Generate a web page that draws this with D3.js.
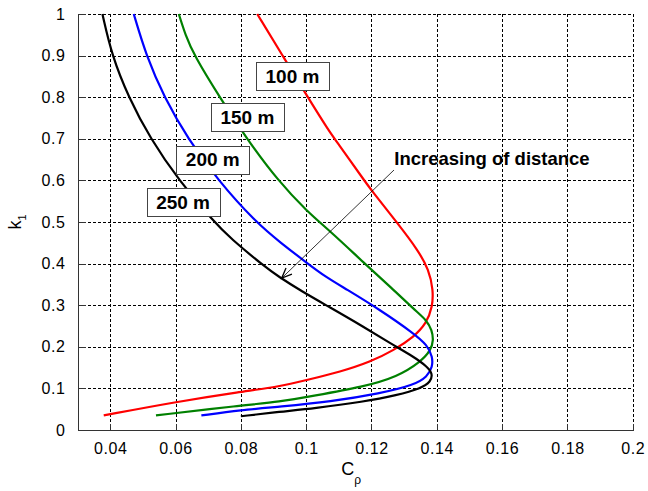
<!DOCTYPE html>
<html><head><meta charset="utf-8">
<script src="https://cdn.jsdelivr.net/npm/d3@7"></script>
<style>
html,body{margin:0;padding:0;background:#fff;}
svg{display:block;font-family:Arial,"Liberation Sans",Helvetica,sans-serif;}
</style></head>
<body>
<div id="chart"></div>
<script>
// ---------- data ----------
const xTicks = [0.04, 0.06, 0.08, 0.1, 0.12, 0.14, 0.16, 0.18, 0.2];
const xTickLabels = ["0.04","0.06","0.08","0.1","0.12","0.14","0.16","0.18","0.2"];
const yTicks = [0, 0.1, 0.2, 0.3, 0.4, 0.5, 0.6, 0.7, 0.8, 0.9, 1];
const yTickLabels = ["0","0.1","0.2","0.3","0.4","0.5","0.6","0.7","0.8","0.9","1"];

const seriesNames = ["100 m", "150 m", "200 m", "250 m"];
const seriesColors = ["#ff0000", "#008000", "#0000ff", "#000000"];

// k1 values and Cp values for each distance
const k100 = [0.035,0.0675,0.092,0.104,0.12,0.14,0.164,0.192,0.224,0.256,0.296,0.337,0.385,0.433,0.497,0.577,0.601,0.697,0.72,0.8,0.9,1.0];
const cp100 = [0.038,0.060,0.080,0.0915,0.1002,0.1105,0.1197,0.1269,0.133,0.1368,0.1387,0.1389,0.1376,0.1342,0.128,0.1199,0.1177,0.109,0.1069,0.1005,0.0928,0.085];

const k150 = [0.035,0.059,0.068,0.082,0.104,0.128,0.164,0.192,0.216,0.240,0.264,0.288,0.341,0.401,0.477,0.525,0.6,0.7,0.8,0.9,0.95,1.0];
const cp150 = [0.054,0.080,0.092,0.102,0.1176,0.1279,0.1351,0.1382,0.139,0.1385,0.1369,0.1333,0.1262,0.1178,0.1075,0.1003,0.0913,0.0818,0.0735,0.0657,0.063,0.061];

const k200 = [0.035,0.048,0.056,0.068,0.088,0.108,0.128,0.152,0.176,0.204,0.232,0.288,0.34,0.369,0.40,0.45,0.5,0.6,0.7,0.8,0.9,1.0];
const cp200 = [0.0679,0.080,0.092,0.1074,0.1228,0.133,0.1371,0.1387,0.1387,0.1371,0.133,0.1228,0.112,0.1058,0.1005,0.0922,0.0845,0.073,0.0638,0.0565,0.051,0.0472];

const k250 = [0.033,0.044,0.052,0.068,0.084,0.1,0.116,0.136,0.152,0.176,0.208,0.248,0.296,0.334,0.369,0.393,0.461,0.5,0.6,0.7,0.8,0.9,1.0];
const cp250 = [0.080,0.092,0.1023,0.1176,0.1279,0.1351,0.1382,0.1387,0.1371,0.133,0.1258,0.1176,0.107,0.0985,0.0915,0.0872,0.0768,0.0718,0.061,0.0523,0.0456,0.0405,0.0376];

const kSeries = [k100, k150, k200, k250];
const cpSeries = [cp100, cp150, cp200, cp250];

// label anchor points (data units)
const labelCp = [0.0958, 0.0820, 0.0714, 0.0623];
const labelK  = [0.851, 0.753, 0.650, 0.547];

// ---------- layout ----------
const W = 648, H = 491;
const L = 77.6, R = 632.7, T = 14, B = 430;

const x = d3.scaleLinear().domain([0.03, 0.2]).range([L, R]);
const y = d3.scaleLinear().domain([0, 1]).range([B, T]);

const svg = d3.select("#chart").append("svg").attr("width", W).attr("height", H);
svg.append("rect").attr("width", W).attr("height", H).attr("fill", "#fff");

// grid
const grid = svg.append("g").attr("stroke", "#000").attr("stroke-width", 1)
  .attr("stroke-dasharray", "3,2").attr("fill", "none").attr("shape-rendering", "crispEdges");
grid.selectAll(".gx").data(xTicks).join("line")
  .attr("x1", d => Math.round(x(d)) + 0.5).attr("x2", d => Math.round(x(d)) + 0.5)
  .attr("y1", T).attr("y2", B);
grid.selectAll(".gy").data(yTicks.filter(d => d > 0)).join("line")
  .attr("x1", L).attr("x2", R)
  .attr("y1", d => Math.round(y(d)) + 0.5).attr("y2", d => Math.round(y(d)) + 0.5);

// axes (MATLAB style, ticks inward)
const xAxis = d3.axisBottom(x).tickValues(xTicks).tickSize(-7).tickSizeOuter(0)
  .tickPadding(12).tickFormat((d, i) => xTickLabels[i]);
const yAxis = d3.axisLeft(y).tickValues(yTicks).tickSize(-7).tickSizeOuter(0)
  .tickPadding(13).tickFormat((d, i) => yTickLabels[i]);

const gx = svg.append("g").attr("transform", `translate(0,${Math.round(B)+0.5})`).call(xAxis);
const gy = svg.append("g").attr("transform", `translate(${Math.round(L)+0.5},0)`).call(yAxis);
[gx, gy].forEach(g => {
  g.select(".domain").attr("stroke", "#333").attr("stroke-width", 1).attr("shape-rendering", "crispEdges");
  g.selectAll(".tick line").attr("stroke", "#333").attr("shape-rendering", "crispEdges");
  g.selectAll(".tick text").attr("fill", "#000").attr("font-size", 16)
    .attr("font-family", 'Arial,"Liberation Sans",sans-serif').attr("letter-spacing", "0.6px");
});
gx.selectAll(".tick text").attr("dy", "0.71em");
gx.select(".domain").attr("d", `M${L},0H${R}`);
gy.select(".domain").attr("d", `M0,${B}V${T}`);

// curves
const line = d3.line().x(d => x(d[0])).y(d => y(d[1])).curve(d3.curveBasis);
const curves = svg.append("g").attr("fill", "none").attr("stroke-width", 2.2).attr("stroke-linejoin", "round");
seriesNames.forEach((name, i) => {
  const pts = kSeries[i].map((k, j) => [cpSeries[i][j], k]);
  curves.append("path").datum(pts).attr("d", line).attr("stroke", seriesColors[i]);
});

// labels
const lab = svg.append("g");
seriesNames.forEach((name, i) => {
  const cx = x(labelCp[i]), cy = y(labelK[i]);
  const bw = 73, bh = 28;
  lab.append("rect").attr("x", Math.round(cx - bw / 2) + 0.5).attr("y", Math.round(cy - bh / 2) + 0.5)
    .attr("width", bw).attr("height", bh).attr("fill", "#fff").attr("stroke", "#444").attr("stroke-width", 1);
  lab.append("text").attr("x", cx).attr("y", cy).attr("dy", "0.36em")
    .attr("text-anchor", "middle").attr("font-weight", "bold").attr("font-size", 19)
    .attr("fill", "#000").text(name);
});

// annotation arrow
const arrowFrom = [0.1269, 0.625], arrowTo = [0.0925, 0.365];
const x1 = x(arrowFrom[0]), y1 = y(arrowFrom[1]), x2 = x(arrowTo[0]), y2 = y(arrowTo[1]);
svg.append("line").attr("x1", x1).attr("y1", y1).attr("x2", x2).attr("y2", y2)
  .attr("stroke", "#000").attr("stroke-width", 0.8);
const ang = Math.atan2(y2 - y1, x2 - x1), hl = 11, ha = 0.4;
svg.append("path")
  .attr("d", `M${x2 - hl * Math.cos(ang - ha)},${y2 - hl * Math.sin(ang - ha)}L${x2},${y2}L${x2 - hl * Math.cos(ang + ha)},${y2 - hl * Math.sin(ang + ha)}`)
  .attr("fill", "none").attr("stroke", "#000").attr("stroke-width", 1.3);
svg.append("text").attr("x", x(0.127)).attr("y", y(0.637))
  .attr("font-weight", "bold").attr("font-size", 18.5).attr("fill", "#000")
  .text("Increasing of distance");

// axis titles
const xt = svg.append("text").attr("x", (L + R) / 2 - 4).attr("y", 475).attr("text-anchor", "middle")
  .attr("font-size", 18).attr("fill", "#000");
xt.append("tspan").text("C");
xt.append("tspan").attr("dy", 9).attr("font-size", 12).text("ρ");

const yt = svg.append("text").attr("transform", `translate(21,${(T + B) / 2}) rotate(-90)`)
  .attr("text-anchor", "middle").attr("font-size", 18).attr("fill", "#000");
yt.append("tspan").text("k");
yt.append("tspan").attr("dy", 5).attr("font-size", 11).text("1");
</script>
</body></html>
